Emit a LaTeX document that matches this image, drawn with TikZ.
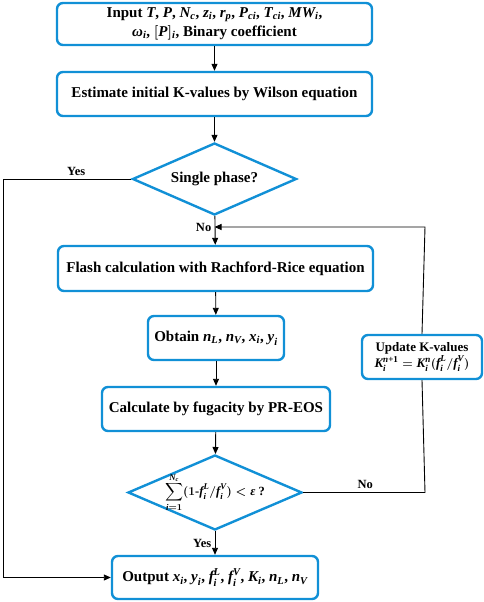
\documentclass[tikz,border=0pt]{standalone}
\usepackage{amsmath,amssymb}
\usepackage{fontspec}
\setmainfont{Liberation Serif}
\usepackage{tikz}
\usetikzlibrary{shapes.geometric, arrows.meta, positioning}
\definecolor{boxblue}{RGB}{17,144,214}
\newcommand{\mv}[1]{\textit{#1}}

\begin{document}
\begin{tikzpicture}[x=1pt,y=-1pt,
  proc/.style={draw=boxblue,line width=2.4pt,rounded corners=6pt,align=center,font=\bfseries\fontsize{15}{19}\selectfont,inner sep=0pt},
  dec/.style={draw=boxblue,line width=2.4pt,diamond,align=center,font=\bfseries\fontsize{15}{19}\selectfont,inner sep=0pt},
  arr/.style={-{Triangle[length=7pt,width=6pt]},line width=0.9pt},
  lnk/.style={line width=0.9pt},
  lbl/.style={font=\bfseries\fontsize{12.5}{14}\selectfont}]
\useasboundingbox (0,0) rectangle (484,602);
\boldmath

\node[proc,minimum width=315,minimum height=42] (inp) at (214.5,24) {Input \mv{T}, \mv{P}, $\mv{N}_{\mv{c}}$, $\mv{z}_{\mv{i}}$, $\mv{r}_{\mv{p}}$, $\mv{P}_{\mv{ci}}$, $\mv{T}_{\mv{ci}}$, $\mv{MW}_{\mv{i}}$,\\ $\mv{ω}_{\mv{i}}$, $[\mv{P}]_{\mv{i}}$, Binary coefficient};
\node[proc,minimum width=315,minimum height=44] (wil) at (214.5,94) {Estimate initial K-values by Wilson equation};
\node[dec,aspect=2.28,minimum width=164,minimum height=72] (sp) at (214.5,179) {Single phase?};
\node[proc,minimum width=315,minimum height=45] (fl) at (215.5,268.5) {Flash calculation with Rachford-Rice equation};
\node[proc,minimum width=136,minimum height=44] (ob) at (216,338) {Obtain $\mv{n}_{\mv{L}}$, $\mv{n}_{\mv{V}}$, $\mv{x}_{\mv{i}}$, $\mv{y}_{\mv{i}}$};
\node[proc,minimum width=228,minimum height=44] (pr) at (216,409) {Calculate by fugacity by PR-EOS};
\node[dec,aspect=2.32,minimum width=174,minimum height=75,
  label={[font=\bfseries\fontsize{12.5}{15}\selectfont]center:{$\displaystyle\sum_{\mv{i}=1}^{\mv{N}_{\mv{c}}}(1\text{-}\mv{f}_{\mv{i}}^{\mv{L}}/\mv{f}_{\mv{i}}^{\mv{V}}) < \mv{ε}$ ?}}] (cv) at (215,492.5) {};
\node[proc,minimum width=206,minimum height=43] (out) at (215,577.5) {Output $\mv{x}_{\mv{i}}$, $\mv{y}_{\mv{i}}$, $\mv{f}_{\mv{i}}^{\mv{L}}$, $\mv{f}_{\mv{i}}^{\mv{V}}$, $\mv{K}_{\mv{i}}$, $\mv{n}_{\mv{L}}$, $\mv{n}_{\mv{V}}$};
\node[proc,minimum width=120,minimum height=44,font=\bfseries\fontsize{13}{16}\selectfont] (upd) at (422,357) {Update K-values\\ $\mv{K}_{\mv{i}}^{\mv{n}\text{+1}} = \mv{K}_{\mv{i}}^{\mv{n}}(\mv{f}_{\mv{i}}^{\mv{L}}/\mv{f}_{\mv{i}}^{\mv{V}})$};

\coordinate (join) at (214.5,227);
\coordinate (rtop) at (425,227);
\coordinate (rbot) at (425,492.5);
\coordinate (lft) at (3,179);

\draw[arr] (inp) -- (wil);
\draw[arr] (wil) -- (sp);
\draw[arr] (sp) -- node[lbl,left,pos=0.4] {No} (fl);
\draw[arr] (fl) -- (ob);
\draw[arr] (ob) -- (pr);
\draw[arr] (pr) -- (cv);
\draw[arr] (cv) -- node[lbl,left] {Yes} (out);
\draw[lnk] (cv.east) -- node[lbl,above,pos=0.51] {No} (rbot) -- (upd.south);
\draw[arr] (upd.north) -- (rtop) -- (join);
\draw[arr] (sp.west) -- node[lbl,above,pos=0.43] {Yes} (lft) |- (out.west);
\end{tikzpicture}
\end{document}
